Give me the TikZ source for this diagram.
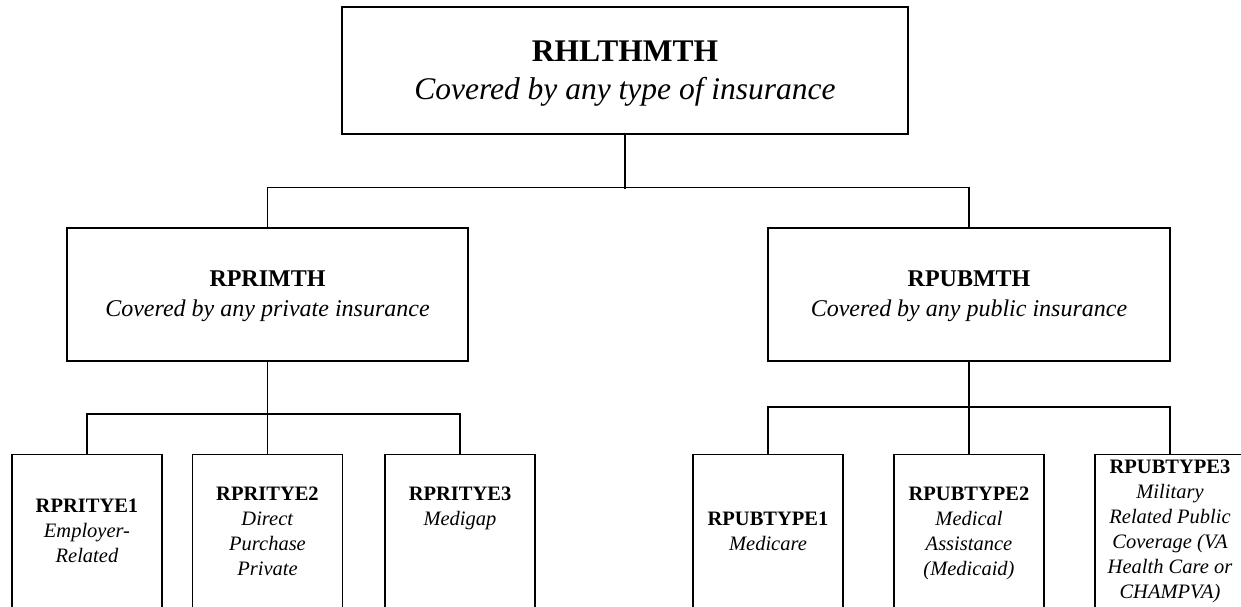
\documentclass[tikz,border=0pt]{standalone}
\usepackage{fontspec}
\setmainfont{Liberation Serif}
\tikzset{
  box/.style={draw=black, line width=1.3pt, fill=white, inner sep=0pt},
  conn/.style={draw=black, line width=1.3pt},
  txt/.style={align=center, inner sep=0pt, anchor=north},
  bigtxt/.style={txt, font=\fontsize{31.5}{38}\selectfont},
  midtxt/.style={txt, font=\fontsize{24}{30}\selectfont},
  smalltxt/.style={txt, font=\fontsize{20.5}{25}\selectfont},
  leaf/.style={box, minimum width=150pt, minimum height=190pt, anchor=north},
}
\begin{document}
\begin{tikzpicture}[x=1pt,y=-1pt]
\useasboundingbox (0,0) rectangle (1241,606);
\clip (0,0) rectangle (1241,606);
\fill[white] (0,0) rectangle (1241,606);
% boxes
\node[box, minimum width=566pt, minimum height=127pt] (top) at (625,70.5) {};
\node[box, minimum width=401pt, minimum height=133pt] (pri) at (267.5,294.5) {};
\node[box, minimum width=402pt, minimum height=133pt] (pub) at (969,294.5) {};
\node[leaf] (p1) at (87,454) {};
\node[leaf] (p2) at (267.5,454) {};
\node[leaf] (p3) at (460,454) {};
\node[leaf] (q1) at (768,454) {};
\node[leaf] (q2) at (969,454) {};
\node[leaf] (q3) at (1170,454) {};
% connectors
\draw[conn] (top.south) -- ++(0,54);
\draw[conn] (pri.north) -- ++(0,-40) -| (pub.north);
\draw[conn] (pri.south) -- (p2.north);
\draw[conn] (p1.north) -- ++(0,-40) -| (p3.north);
\draw[conn] (pub.south) -- (q2.north);
\draw[conn] (q1.north) -- ++(0,-47) -| (q3.north);
% texts
\node[bigtxt] (ttop) at (625,41) {\textbf{RHLTHMTH}\\\textit{Covered by any type of insurance}};
\node[midtxt] (tpri) at (267.5,271) {\textbf{RPRIMTH}\\\textit{Covered by any private insurance}};
\node[midtxt] (tpub) at (969,271) {\textbf{RPUBMTH}\\\textit{Covered by any public insurance}};
\node[smalltxt] (tp1) at (87,498.5) {\textbf{RPRITYE1}\\\textit{Employer-}\\\textit{Related}};
\node[smalltxt] (tp2) at (267.5,486.5) {\textbf{RPRITYE2}\\\textit{Direct}\\\textit{Purchase}\\\textit{Private}};
\node[smalltxt] (tp3) at (460,486.5) {\textbf{RPRITYE3}\\\textit{Medigap}};
\node[smalltxt] (tq1) at (768,511.5) {\textbf{RPUBTYPE1}\\\textit{Medicare}};
\node[smalltxt] (tq2) at (969,486.5) {\textbf{RPUBTYPE2}\\\textit{Medical}\\\textit{Assistance}\\\textit{(Medicaid)}};
\node[smalltxt] (tq3) at (1170,459.5) {\textbf{RPUBTYPE3}\\\textit{Military}\\\textit{Related Public}\\\textit{Coverage (VA}\\\textit{Health Care or}\\\textit{CHAMPVA)}};
\end{tikzpicture}
\end{document}
